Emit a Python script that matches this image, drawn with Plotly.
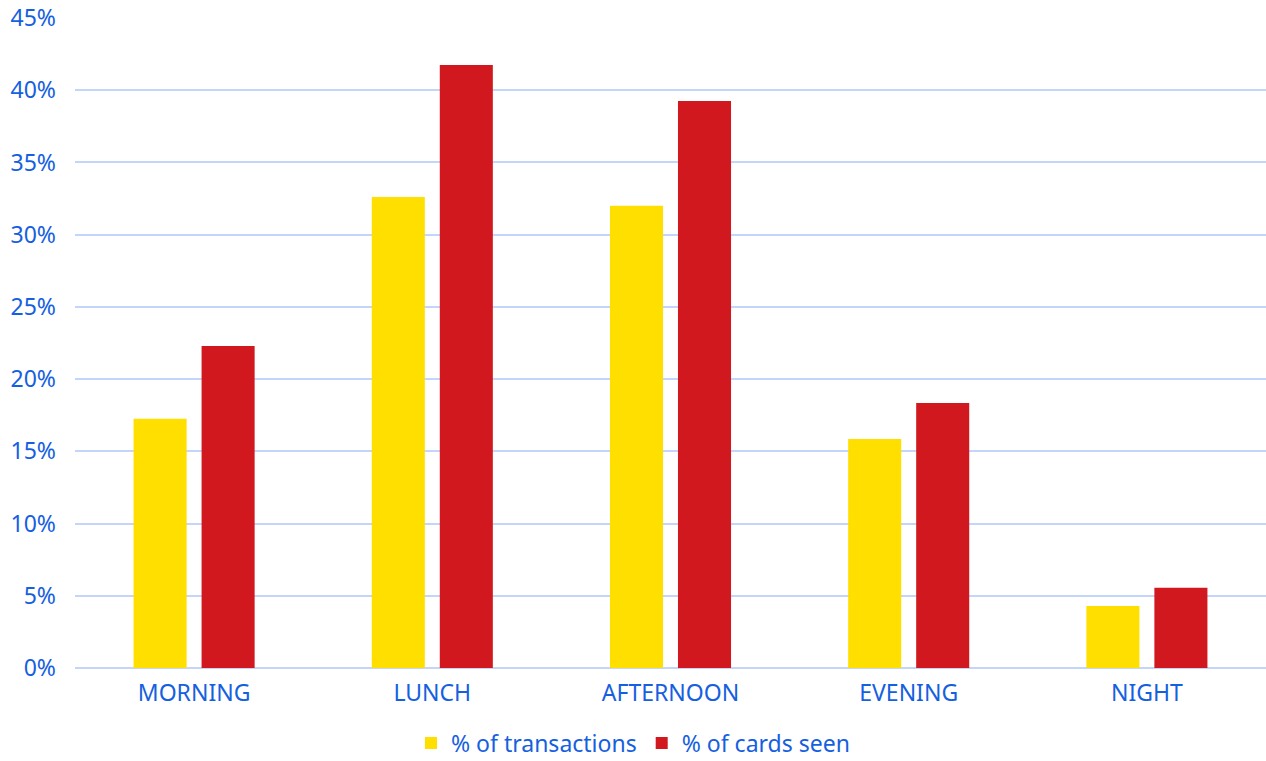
import plotly.graph_objects as go

categories = ["MORNING", "LUNCH", "AFTERNOON", "EVENING", "NIGHT"]
pct_transactions = [17.25, 32.6, 32.0, 15.85, 4.3]
pct_cards_seen = [22.3, 41.75, 39.25, 18.35, 5.55]
tick_vals = [0, 5, 10, 15, 20, 25, 30, 35, 40, 45]
tick_text = [f"{v}%" for v in tick_vals]

blue = "#1560e0"
fig = go.Figure()
fig.add_trace(go.Bar(x=categories, y=pct_transactions, name="% of transactions",
                     marker=dict(color="#FFDF00", line=dict(width=0))))
fig.add_trace(go.Bar(x=categories, y=pct_cards_seen, name="% of cards seen",
                     marker=dict(color="#D0181E", line=dict(width=0))))

fig.update_layout(
    width=1266, height=761,
    margin=dict(l=75, r=0, t=18, b=93),
    paper_bgcolor="white", plot_bgcolor="white",
    barmode="group", bargap=0.429, bargroupgap=0.22,
    font=dict(family="Noto Sans, Roboto, sans-serif", size=23, color=blue),
    legend=dict(orientation="h", x=0.5, xanchor="center",
                xref="container", yref="container", y=18 / 761, yanchor="middle",
                font=dict(size=23, color=blue), itemwidth=30, traceorder="normal"),
    showlegend=True,
)
fig.update_yaxes(range=[0, 45], tickvals=tick_vals, ticktext=tick_text,
                 showgrid=True, gridcolor="#c3d6fa", gridwidth=1.5,
                 zeroline=True, zerolinecolor="#c3d6fa", zerolinewidth=2,
                 ticklabelstandoff=18, showline=False, automargin=False)
fig.update_xaxes(showgrid=False, showline=False, ticklabelstandoff=9, automargin=False)

fig.write_html("out.html")
